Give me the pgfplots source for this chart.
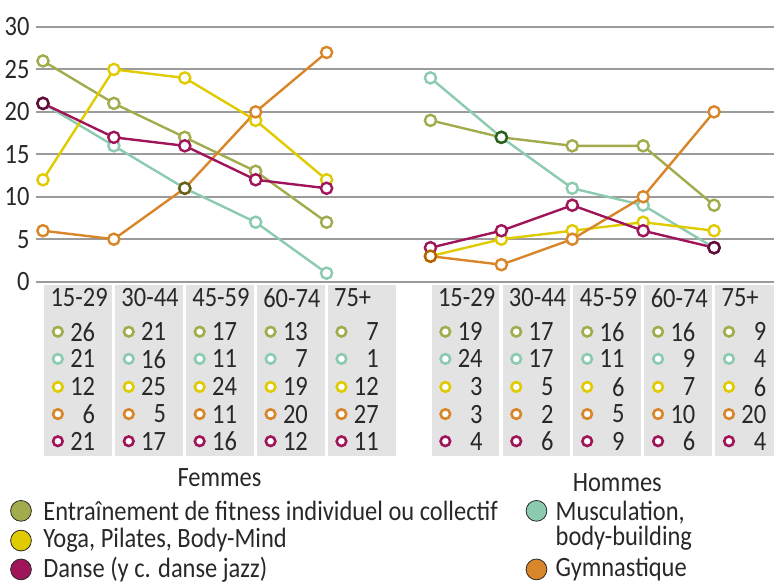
\documentclass[border=0pt]{standalone}
\usepackage{fontspec}
\setmainfont{Carlito}[FakeStretch=0.875]
\usepackage{pgfplots}
\pgfplotsset{compat=1.18}

\definecolor{cfit}{RGB}{163,172,76}
\definecolor{cmus}{RGB}{140,203,176}
\definecolor{cyog}{RGB}{224,203,0}
\definecolor{cgym}{RGB}{217,134,42}
\definecolor{cdan}{RGB}{160,21,90}
\definecolor{cgrid}{RGB}{155,155,155}
\definecolor{ccell}{RGB}{227,227,227}
\definecolor{ctext}{RGB}{40,40,40}

% one grey column of the table: #1 x, #2 width, #3 header, #4-#8 values
\newcommand{\cell}[8]{%
  \fill[ccell] ([xshift=0.6pt]axis cs:#1,-0.35) rectangle ([xshift=#2]axis cs:#1,-20.5);
  \node[anchor=west,inner sep=0pt] at ([xshift=3.6pt]axis cs:#1,-1.9) {#3};
  \node[anchor=east,inner sep=0pt] at ([xshift=26.3pt]axis cs:#1,-5.9) {#4};
  \node[anchor=east,inner sep=0pt] at ([xshift=26.3pt]axis cs:#1,-9.1) {#5};
  \node[anchor=east,inner sep=0pt] at ([xshift=26.3pt]axis cs:#1,-12.4) {#6};
  \node[anchor=east,inner sep=0pt] at ([xshift=26.3pt]axis cs:#1,-15.6) {#7};
  \node[anchor=east,inner sep=0pt] at ([xshift=26.3pt]axis cs:#1,-18.8) {#8};
}

\pgfplotsset{
  ser/.style={line width=1.2pt, color=#1, mark=*, mark size=2.8pt,
    mark options={fill=white, draw=#1, line width=1.2pt}},
  tab/.style={only marks, mark=*, mark size=2.4pt,
    mark options={fill=white, draw=#1, line width=1.3pt}},
  leg/.style={only marks, mark=*, mark size=5.2pt,
    mark options={fill=#1, draw=none}},
}

\begin{document}
\fontsize{14}{16}\selectfont\color{ctext}
\begin{tikzpicture}
\begin{axis}[
  x=35.5pt, y=4.25pt,
  xmin=-0.1, xmax=10.31, ymin=0, ymax=30,
  clip=false,
  axis line style={draw=none},
  major tick length=0pt,
  xtick=\empty,
  ytick={0,5,...,30},
  ymajorgrids,
  grid style={cgrid, line width=1pt},
  yticklabel style={inner sep=0pt, xshift=-3pt, text=ctext},
  /pgf/number format/assume math mode=true,
]
% frame of the whole picture
\path (axis cs:-0.606,33.18) rectangle (axis cs:10.31,-35.41);

% table cells
\cell{0}{34.5pt}{15-29}{26}{21}{12}{6}{21}
\cell{1}{34.5pt}{30-44}{21}{16}{25}{5}{17}
\cell{2}{34.5pt}{45-59}{17}{11}{24}{11}{16}
\cell{3}{34.5pt}{60-74}{13}{7}{19}{20}{12}
\cell{4}{34.5pt}{75+}{7}{1}{12}{27}{11}
\cell{5.465}{34.5pt}{15-29}{19}{24}{3}{3}{4}
\cell{6.465}{34.5pt}{30-44}{17}{17}{5}{2}{6}
\cell{7.465}{34.5pt}{45-59}{16}{11}{6}{5}{9}
\cell{8.465}{34.5pt}{60-74}{16}{9}{7}{10}{6}
\cell{9.465}{29.9pt}{75+}{9}{4}{6}{20}{4}

\addplot[tab=cfit] coordinates {(0.21,-5.9) (1.21,-5.9) (2.21,-5.9) (3.21,-5.9) (4.21,-5.9) (5.675,-5.9) (6.675,-5.9) (7.675,-5.9) (8.675,-5.9) (9.675,-5.9)};
\addplot[tab=cmus] coordinates {(0.21,-9.1) (1.21,-9.1) (2.21,-9.1) (3.21,-9.1) (4.21,-9.1) (5.675,-9.1) (6.675,-9.1) (7.675,-9.1) (8.675,-9.1) (9.675,-9.1)};
\addplot[tab=cyog] coordinates {(0.21,-12.4) (1.21,-12.4) (2.21,-12.4) (3.21,-12.4) (4.21,-12.4) (5.675,-12.4) (6.675,-12.4) (7.675,-12.4) (8.675,-12.4) (9.675,-12.4)};
\addplot[tab=cgym] coordinates {(0.21,-15.6) (1.21,-15.6) (2.21,-15.6) (3.21,-15.6) (4.21,-15.6) (5.675,-15.6) (6.675,-15.6) (7.675,-15.6) (8.675,-15.6) (9.675,-15.6)};
\addplot[tab=cdan] coordinates {(0.21,-18.8) (1.21,-18.8) (2.21,-18.8) (3.21,-18.8) (4.21,-18.8) (5.675,-18.8) (6.675,-18.8) (7.675,-18.8) (8.675,-18.8) (9.675,-18.8)};

% Femmes
\addplot[ser=cmus] coordinates {(0,21) (1,16) (2,11) (3,7) (4,1)};
\addplot[ser=cfit] coordinates {(0,26) (1,21) (2,17) (3,13) (4,7)};
\addplot[ser=cyog] coordinates {(0,12) (1,25) (2,24) (3,19) (4,12)};
\addplot[ser=cgym] coordinates {(0,6) (1,5) (2,11) (3,20) (4,27)};
\addplot[ser=cdan] coordinates {(0,21) (1,17) (2,16) (3,12) (4,11)};
% Hommes
\addplot[ser=cmus] coordinates {(5.465,24) (6.465,17) (7.465,11) (8.465,9) (9.465,4)};
\addplot[ser=cfit] coordinates {(5.465,19) (6.465,17) (7.465,16) (8.465,16) (9.465,9)};
\addplot[ser=cyog] coordinates {(5.465,3) (6.465,5) (7.465,6) (8.465,7) (9.465,6)};
\addplot[ser=cgym] coordinates {(5.465,3) (6.465,2) (7.465,5) (8.465,10) (9.465,20)};
\addplot[ser=cdan] coordinates {(5.465,4) (6.465,6) (7.465,9) (8.465,6) (9.465,4)};

% overlapping markers look darker
\addplot[only marks, mark=*, mark size=2.8pt, mark options={fill=white, draw={rgb,255:red,95;green,12;blue,60}, line width=1.2pt}] coordinates {(0,21) (9.465,4)};
\addplot[only marks, mark=*, mark size=2.8pt, mark options={fill=white, draw={rgb,255:red,100;green,95;blue,25}, line width=1.2pt}] coordinates {(2,11)};
\addplot[only marks, mark=*, mark size=2.8pt, mark options={fill=white, draw={rgb,255:red,40;green,95;blue,30}, line width=1.2pt}] coordinates {(6.465,17)};
\addplot[only marks, mark=*, mark size=2.8pt, mark options={fill=white, draw={rgb,255:red,175;green,100;blue,0}, line width=1.2pt}] coordinates {(5.465,3)};

% group names
\node at (axis cs:2.49,-23.06) {Femmes};
\node at (axis cs:8.10,-23.65) {Hommes};

% legend
\addplot[leg=cfit] coordinates {(-0.31,-27.0)};
\addplot[leg=cyog] coordinates {(-0.31,-30.5)};
\addplot[leg=cdan] coordinates {(-0.31,-33.9)};
\addplot[leg=cmus] coordinates {(6.96,-27.0)};
\addplot[leg=cgym] coordinates {(6.96,-33.9)};
\node[anchor=west,inner sep=0pt] at (axis cs:0,-27.0) {Entraînement de fitness individuel ou collectif};
\node[anchor=west,inner sep=0pt] at (axis cs:0,-30.5) {Yoga, Pilates, Body-Mind};
\node[anchor=west,inner sep=0pt] at (axis cs:0,-33.9) {Danse (y c. danse jazz)};
\node[anchor=north west,inner sep=0pt,align=left,font={\fontsize{14}{12.5}\selectfont}]
  at (axis cs:7.225,-25.75) {Musculation,\\body-building};
\node[anchor=west,inner sep=0pt] at (axis cs:7.225,-33.9) {Gymnastique};
\end{axis}
\end{tikzpicture}
\end{document}
